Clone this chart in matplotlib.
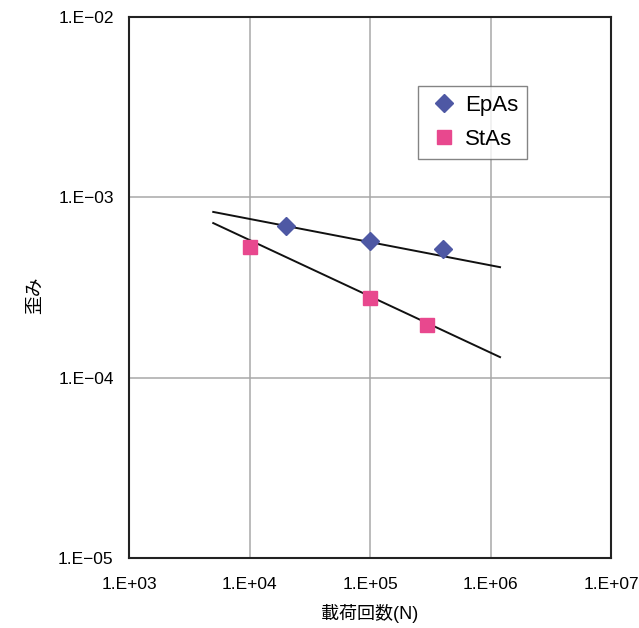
import matplotlib
matplotlib.use("Agg")
import matplotlib.pyplot as plt
from matplotlib.ticker import FixedLocator, NullLocator

plt.rcParams["font.family"] = ["Liberation Sans", "Noto Sans CJK JP", "DejaVu Sans"]

# data
epas_n = [2e4, 1e5, 4e5]
epas_strain = [6.9e-4, 5.75e-4, 5.2e-4]
stas_n = [1e4, 1e5, 3e5]
stas_strain = [5.3e-4, 2.75e-4, 1.97e-4]

# trend lines (end points as drawn in the reference)
trend_n = [5e3, 1.2e6]
epas_trend = [8.3e-4, 4.1e-4]
stas_trend = [7.2e-4, 1.3e-4]

x_ticks = [1e3, 1e4, 1e5, 1e6, 1e7]
x_labels = ["1.E+03", "1.E+04", "1.E+05", "1.E+06", "1.E+07"]
y_ticks = [1e-5, 1e-4, 1e-3, 1e-2]
y_labels = ["1.E\u221205", "1.E\u221204", "1.E\u221203", "1.E\u221202"]

fig = plt.figure(figsize=(6.39, 6.28), dpi=100)
ax = fig.add_axes([129 / 639, 1 - 558 / 628, 482 / 639, 541 / 628])
ax.set_xscale("log")
ax.set_yscale("log")
ax.set_xlim(1e3, 1e7)
ax.set_ylim(1e-5, 1e-2)

ax.xaxis.set_major_locator(FixedLocator(x_ticks))
ax.yaxis.set_major_locator(FixedLocator(y_ticks))
ax.xaxis.set_minor_locator(NullLocator())
ax.yaxis.set_minor_locator(NullLocator())
ax.set_xticklabels(x_labels, fontsize=12.5)
ax.set_yticklabels(y_labels, fontsize=12.5)
ax.tick_params(axis="x", length=0, pad=14)
ax.tick_params(axis="y", length=0, pad=11)
ax.grid(True, color="#a8a8a8", linewidth=1.1)
ax.set_axisbelow(True)
for s in ax.spines.values():
    s.set_linewidth(1.5)
    s.set_color("#222222")

ax.plot(trend_n, epas_trend, color="#111111", linewidth=1.4, zorder=2)
ax.plot(trend_n, stas_trend, color="#111111", linewidth=1.4, zorder=2)

ax.plot(epas_n, epas_strain, linestyle="none", marker="D", markersize=9,
        color="#4e58a4", label="EpAs", zorder=3)
ax.plot(stas_n, stas_strain, linestyle="none", marker="s", markersize=10,
        color="#e8488e", label="StAs", zorder=3)

leg = ax.legend(loc="upper left", bbox_to_anchor=((418 - 129) / 482, 1 - (86 - 17) / 541),
                borderaxespad=0, fontsize=16, frameon=True, fancybox=False,
                borderpad=0.4, handletextpad=0.2, handlelength=1.5, labelspacing=0.6)
leg.get_frame().set_edgecolor("#666666")
leg.get_frame().set_linewidth(1.0)

fig.text(370 / 639, 1 - 613 / 628, "載荷回数(N)", fontsize=13,
         ha="center", va="center")
fig.text(35 / 639, 1 - 295 / 628, "歪み", fontsize=13.5, rotation=90,
         ha="center", va="center")

fig.savefig("out.png", dpi=100)
